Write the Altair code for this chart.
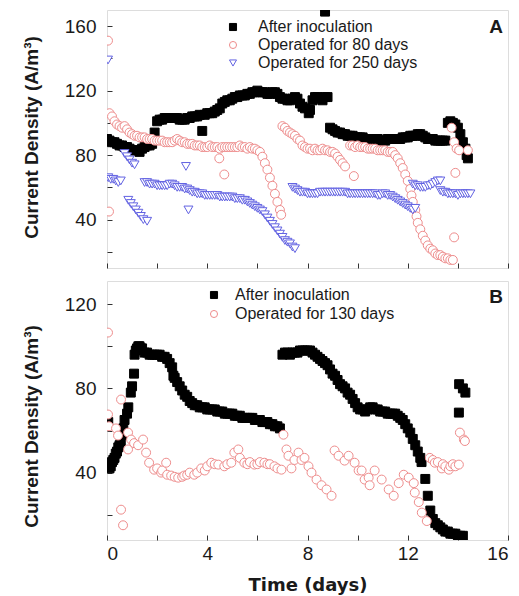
import altair as alt
import pandas as pd

# ---------------- Panel A data (time in days, current density A/m3) ----------------
a_names = ["After inoculation", "Operated for 80 days", "Operated for 250 days"]

a_inoc = [
    (0.0, 90), (0.1, 89), (0.2, 88), (0.3, 88), (0.4, 87), (0.5, 86), (0.6, 86), (0.7, 85),
    (0.8, 85), (0.9, 84), (1.0, 83), (1.1, 83), (1.2, 83), (1.3, 82), (1.4, 84), (1.5, 85),
    (1.6, 86), (1.7, 86), (1.8, 87), (1.9, 94),
    (2.0, 101), (2.1, 102), (2.2, 102), (2.3, 103), (2.4, 103), (2.5, 103), (2.6, 103),
    (2.7, 103), (2.8, 103), (2.9, 102), (3.0, 102), (3.1, 102), (3.2, 103), (3.3, 103),
    (3.4, 104), (3.5, 104), (3.6, 104), (3.7, 105), (3.8, 95),
    (3.9, 105), (4.0, 106), (4.1, 106), (4.2, 106), (4.3, 107), (4.4, 108), (4.5, 109),
    (4.6, 112), (4.7, 113), (4.8, 114), (4.9, 114), (5.0, 115), (5.1, 116), (5.2, 116),
    (5.3, 117), (5.4, 117), (5.5, 117), (5.6, 118), (5.7, 118),
    (5.8, 119), (5.9, 119), (6.0, 120), (6.1, 119), (6.2, 119), (6.3, 119), (6.4, 118),
    (6.5, 118), (6.6, 119), (6.7, 119), (6.8, 118),
    (6.9, 116), (7.0, 115), (7.1, 115), (7.2, 114), (7.3, 114), (7.4, 115), (7.5, 116),
    (7.6, 115), (7.7, 112), (7.8, 110), (7.9, 109), (8.05, 106), (8.1, 108),
    (8.2, 114), (8.3, 116), (8.4, 116), (8.5, 115), (8.6, 114), (8.7, 116), (8.8, 116),
    (8.7, 169),
    (8.9, 97), (9.0, 96), (9.1, 95), (9.2, 94), (9.3, 94), (9.4, 93), (9.5, 93), (9.6, 92),
    (9.7, 92), (9.8, 92), (9.9, 91), (10.0, 91), (10.1, 91), (10.2, 91), (10.3, 90),
    (10.4, 90), (10.5, 90), (10.6, 90), (10.7, 90), (10.8, 90), (10.9, 89), (11.0, 89),
    (11.1, 89), (11.2, 90), (11.3, 90), (11.4, 90), (11.5, 90), (11.6, 90), (11.7, 90),
    (11.8, 91), (11.9, 91), (12.0, 91), (12.1, 92), (12.2, 92), (12.3, 92), (12.4, 93),
    (12.5, 93), (12.6, 92), (12.7, 91), (12.8, 90), (12.9, 90), (13.0, 90), (13.1, 89),
    (13.2, 89), (13.3, 89), (13.4, 89), (13.5, 89),
    (13.6, 100), (13.7, 101), (13.8, 100), (13.9, 99), (14.0, 97), (14.1, 93), (14.2, 88),
    (14.3, 84), (14.35, 80), (14.4, 78),
]

a_80 = [
    (0.04, 151), (0.08, 45), (0.1, 106), (0.2, 104), (0.3, 101), (0.4, 99), (0.5, 98),
    (0.6, 97), (0.7, 98), (0.8, 96),
    (0.9, 94), (1.0, 93), (1.1, 92), (1.2, 92), (1.3, 91), (1.4, 91), (1.5, 91), (1.6, 90),
    (1.7, 90), (1.8, 90), (1.9, 89), (2.0, 89), (2.1, 89), (2.2, 89), (2.3, 88), (2.4, 88),
    (2.5, 88), (2.6, 88), (2.7, 89), (2.8, 90), (2.9, 89), (3.0, 88), (3.1, 88), (3.2, 87),
    (3.3, 87), (3.4, 87), (3.5, 86), (3.6, 86), (3.7, 86), (3.8, 85), (3.9, 85), (4.0, 85),
    (4.1, 86), (4.2, 85), (4.3, 85), (4.4, 85), (4.5, 84), (4.6, 85), (4.7, 85), (4.8, 85),
    (4.9, 85), (5.0, 85), (4.48, 78), (4.68, 68),
    (5.1, 85), (5.2, 85), (5.3, 86), (5.4, 85), (5.5, 85), (5.6, 84), (5.7, 85), (5.8, 84),
    (5.9, 84), (6.0, 83),
    (6.1, 82), (6.2, 79), (6.3, 75), (6.4, 71), (6.5, 66), (6.6, 61), (6.7, 56), (6.8, 51),
    (6.9, 46), (6.95, 43),
    (7.0, 98), (7.1, 97), (7.2, 95), (7.3, 94), (7.4, 93), (7.5, 92), (7.6, 90), (7.7, 89),
    (7.8, 86), (7.9, 85), (8.0, 84), (8.1, 84), (8.2, 83), (8.3, 84), (8.4, 83), (8.5, 83),
    (8.6, 84), (8.7, 83), (8.8, 83), (8.9, 82), (9.0, 82), (9.1, 81), (9.2, 79), (9.3, 77),
    (9.4, 75), (9.5, 73), (9.85, 67),
    (9.7, 86), (9.8, 86), (9.9, 85), (10.0, 86), (10.1, 85), (10.2, 85), (10.3, 85),
    (10.4, 84), (10.5, 84), (10.6, 84), (10.7, 84), (10.8, 83), (10.9, 83), (11.0, 83),
    (11.1, 83), (11.2, 82), (11.3, 82), (11.4, 82),
    (11.5, 80), (11.6, 78), (11.7, 75), (11.8, 72), (11.9, 68), (12.0, 64), (12.1, 59),
    (12.15, 55), (12.2, 51), (12.3, 46), (12.35, 42), (12.4, 38), (12.5, 34), (12.6, 30),
    (12.7, 27), (12.8, 24), (12.9, 22), (13.0, 21), (13.1, 19), (13.2, 18), (13.3, 18),
    (13.4, 17), (13.5, 16), (13.6, 16), (13.7, 15), (13.8, 15),
    (13.75, 97), (13.85, 88), (13.95, 84), (14.05, 83), (13.9, 69), (13.85, 29), (14.4, 83),
]

a_250 = [
    (0.04, 139), (0.05, 66), (0.15, 65), (0.25, 65), (0.35, 64), (0.45, 63), (0.55, 64),
    (0.7, 81), (0.8, 79), (0.9, 77), (1.0, 75), (1.1, 74),
    (0.85, 52), (0.95, 50), (1.05, 48), (1.15, 46), (1.25, 44), (1.35, 42), (1.45, 40),
    (1.6, 39), (3.15, 73), (3.25, 46),
    (1.5, 63), (1.6, 63), (1.7, 62), (1.8, 62), (1.9, 62), (2.0, 61), (2.1, 61), (2.2, 61),
    (2.3, 61), (2.4, 61), (2.5, 62), (2.6, 62), (2.7, 61), (2.8, 60), (2.9, 60), (3.0, 60),
    (3.1, 59), (3.2, 59),
    (3.3, 58), (3.4, 57), (3.5, 57), (3.6, 56), (3.7, 56), (3.8, 56), (3.9, 55), (4.0, 55),
    (4.1, 55), (4.2, 55), (4.3, 55), (4.4, 55), (4.5, 54), (4.6, 54), (4.7, 54), (4.8, 54),
    (4.9, 54), (5.0, 54), (5.1, 53), (5.2, 53), (5.3, 53), (5.4, 52), (5.5, 52), (5.6, 51),
    (5.7, 50), (5.8, 49), (5.9, 48), (6.0, 47), (6.1, 46), (6.2, 45), (6.3, 43), (6.4, 41),
    (6.5, 39), (6.6, 37), (6.7, 35), (6.8, 33), (6.9, 31), (7.0, 29), (7.1, 27), (7.2, 26),
    (7.3, 25), (7.4, 23), (7.5, 22),
    (7.4, 60), (7.5, 59), (7.6, 58), (7.7, 57), (7.8, 57), (7.9, 57), (8.0, 56), (8.1, 56),
    (8.2, 56), (8.3, 56), (8.4, 56), (8.5, 57), (8.6, 57), (8.7, 57), (8.8, 57), (8.9, 57),
    (9.0, 57), (9.1, 57), (9.2, 57), (9.3, 57), (9.4, 57), (9.5, 57), (9.6, 56), (9.7, 56),
    (9.8, 56), (9.9, 56), (10.0, 56), (10.1, 56), (10.2, 56), (10.3, 56), (10.4, 56),
    (10.5, 56), (10.6, 56), (10.7, 56), (10.8, 55), (10.9, 55), (11.0, 56), (11.1, 56),
    (11.2, 55), (11.3, 55),
    (11.4, 54), (11.5, 53), (11.6, 52), (11.7, 51), (11.8, 50), (11.9, 49), (12.0, 48),
    (12.1, 47), (12.2, 46), (12.3, 47),
    (12.2, 62), (12.3, 61), (12.4, 61), (12.5, 60), (12.6, 60), (12.7, 60), (12.8, 61),
    (12.9, 61), (13.0, 62), (13.1, 63), (13.2, 64), (13.3, 64),
    (13.3, 58), (13.4, 57), (13.5, 57), (13.6, 56), (13.7, 56), (13.8, 56), (13.9, 56),
    (14.0, 55), (14.1, 56), (14.2, 56), (14.3, 56), (14.4, 56), (14.5, 56),
]

# ---------------- Panel B data ----------------
b_names = ["After inoculation", "Operated for 130 days"]

b_inoc = [
    (0.05, 64), (0.1, 42), (0.15, 43), (0.2, 45), (0.25, 46), (0.3, 47), (0.35, 49),
    (0.4, 50), (0.45, 52), (0.5, 53), (0.55, 55), (0.6, 58), (0.65, 61), (0.7, 65),
    (0.8, 68), (0.85, 71), (0.95, 78), (1.0, 81), (1.08, 87), (1.1, 96), (1.15, 98),
    (1.2, 99), (1.25, 100), (1.3, 100), (1.35, 99), (1.4, 99), (1.5, 97), (1.6, 97),
    (1.7, 96), (1.8, 96), (1.9, 96), (2.0, 96), (2.1, 96), (2.2, 95), (2.3, 95), (2.4, 94),
    (2.5, 92), (2.6, 90), (2.65, 86), (2.7, 85), (2.8, 83), (2.9, 81), (3.0, 79), (3.1, 77),
    (3.2, 76), (3.3, 74), (3.4, 73), (3.5, 72), (3.6, 72), (3.7, 71), (3.8, 71), (3.9, 71),
    (4.0, 70), (4.1, 70), (4.2, 70), (4.3, 70), (4.4, 69), (4.5, 69), (4.6, 69), (4.7, 68),
    (4.8, 68), (4.9, 68), (5.0, 68), (5.1, 67), (5.2, 67), (5.3, 67), (5.4, 66), (5.5, 66),
    (5.6, 66), (5.7, 66), (5.8, 66), (5.9, 65), (6.0, 65), (6.1, 65), (6.2, 64), (6.3, 64),
    (6.4, 64), (6.5, 63), (6.6, 63), (6.7, 62), (6.8, 62), (6.9, 61),
    (7.0, 96), (7.1, 97), (7.2, 97), (7.3, 96), (7.4, 97), (7.5, 97), (7.6, 97), (7.7, 98),
    (7.8, 98), (7.9, 98), (8.0, 98), (8.1, 98), (8.2, 97), (8.3, 96), (8.4, 95), (8.5, 94),
    (8.6, 93), (8.7, 92), (8.8, 91), (8.9, 89), (9.0, 87), (9.1, 86), (9.2, 84), (9.3, 82),
    (9.4, 81), (9.5, 80), (9.6, 78), (9.7, 77), (9.8, 75), (9.9, 73), (10.0, 71),
    (10.1, 70), (10.2, 70), (10.3, 69), (10.4, 70), (10.5, 71), (10.6, 71), (10.7, 70),
    (10.8, 70), (10.9, 69), (11.0, 69), (11.1, 69), (11.2, 68), (11.3, 68), (11.4, 68),
    (11.5, 68), (11.6, 67), (11.7, 66), (11.8, 65), (11.9, 63), (12.0, 61), (12.1, 59),
    (12.2, 56), (12.3, 53), (12.4, 50), (12.5, 47), (12.55, 45), (12.7, 37), (12.8, 29),
    (12.9, 22), (13.0, 18), (13.1, 16), (13.2, 15), (13.3, 14), (13.4, 13), (13.5, 12),
    (13.6, 12), (13.7, 11), (13.8, 11), (13.9, 11), (14.0, 10), (14.1, 10), (14.2, 10),
    (14.04, 68.5), (14.05, 82), (14.2, 80), (14.3, 78),
]

b_130 = [
    (0.04, 106.5), (0.04, 67.6), (0.08, 62), (0.36, 61), (0.56, 74.7), (0.56, 22.4),
    (0.64, 15), (0.44, 57.6), (0.84, 59), (0.84, 51), (0.96, 55.7), (1.08, 54), (1.24, 53),
    (1.44, 55.7), (1.56, 49.5), (1.68, 44.7), (1.88, 41.4), (2.0, 42), (2.16, 40), (2.2, 41),
    (2.36, 44.7), (2.4, 39), (2.56, 38.6), (2.7, 38), (2.84, 37.6), (3.0, 38), (3.08, 38.6),
    (3.2, 39), (3.3, 40), (3.48, 39), (3.6, 40), (3.76, 42), (3.9, 41), (4.0, 43),
    (4.16, 44.7), (4.3, 44), (4.44, 43.8), (4.68, 43), (4.8, 44), (4.96, 44.7), (5.08, 49.5),
    (5.24, 51), (5.3, 47), (5.48, 44.7), (5.6, 44), (5.7, 45), (5.88, 43.8), (6.0, 44),
    (6.1, 45), (6.28, 44.7), (6.4, 44), (6.5, 44), (6.68, 43), (6.8, 42), (6.96, 41.4),
    (7.04, 58), (7.16, 51), (7.24, 48), (7.36, 42), (7.48, 46), (7.64, 49.5), (7.76, 46),
    (7.88, 47), (8.04, 43), (8.16, 40), (8.36, 36.7), (8.56, 34), (8.76, 32), (8.96, 29),
    (9.08, 50.5), (9.24, 48), (9.48, 45.7), (9.64, 48), (9.88, 44.7), (10.04, 41),
    (10.16, 41), (10.28, 36.7), (10.44, 37.6), (10.48, 34), (10.68, 41), (10.96, 36.7),
    (11.24, 32), (11.44, 29), (11.64, 35), (11.84, 39), (12.04, 37.6), (12.24, 35),
    (12.28, 30.5), (12.44, 26), (12.56, 21), (12.76, 17), (12.88, 47), (13.0, 46),
    (13.08, 44.7), (13.2, 45), (13.36, 42), (13.4, 44), (13.5, 43), (13.64, 41.4), (13.7, 43),
    (13.8, 44), (13.9, 43), (14.04, 43.8), (14.08, 59), (14.24, 55.7), (14.28, 55),
]

x_ticks = [0, 2, 4, 6, 8, 10, 12, 14, 16]
a_y_ticks = [20, 40, 60, 80, 100, 120, 140, 160]
b_y_ticks = [20, 40, 60, 80, 100, 120]

FONT = "Liberation Sans"
INK = "#1a1a1a"


def to_frame(pairs, name):
    return pd.DataFrame({"t": [p[0] for p in pairs], "v": [p[1] for p in pairs], "series": name})


def panel(df, names, shapes, strokes, fills, ydom, yvals, height, show_x, title_y,
          leg_x, leg_y, leg_off, leg_row, letter, letter_y):
    legend = alt.Legend(
        title=None, orient="none", legendX=leg_x, legendY=leg_y, padding=0,
        labelFont=FONT, labelFontSize=16, labelColor=INK, labelOffset=leg_off,
        rowPadding=leg_row, symbolSize=50, symbolStrokeWidth=1,
    )
    xaxis = alt.Axis(
        values=x_ticks, offset=-5, tickSize=5, tickColor="#333", tickWidth=1,
        domain=False, grid=False,
        labels=show_x,
        labelExpr="datum.value % 4 === 0 ? datum.label : ''",
        labelFont=FONT, labelFontSize=19, labelColor=INK, labelPadding=4,
        title="Time (days)" if show_x else None,
        titleFont="DejaVu Sans", titleFontSize=18, titleFontWeight="bold", titleColor=INK,
        titleBaseline="alphabetic", titleY=55,
    )
    yaxis = alt.Axis(
        values=yvals, offset=-5, tickSize=5, tickColor="#333", tickWidth=1,
        domain=False, grid=False,
        labelExpr="datum.value % 40 === 0 ? datum.label : ''",
        labelFont=FONT, labelFontSize=19, labelColor=INK, labelPadding=11,
        title="Current Density (A/m³)", titleFont=FONT, titleFontSize=19,
        titleFontWeight="bold", titleColor=INK, titleAngle=270, titleAlign="center",
        titleBaseline="bottom", titleX=-71, titleY=title_y,
    )
    pts = alt.Chart(df).mark_point(size=80, strokeWidth=1, opacity=1, clip=True).encode(
        x=alt.X("t:Q", scale=alt.Scale(domain=[0, 16], nice=False), axis=xaxis),
        y=alt.Y("v:Q", scale=alt.Scale(domain=ydom, nice=False, zero=False), axis=yaxis),
        shape=alt.Shape("series:N", scale=alt.Scale(domain=names, range=shapes), legend=legend),
        stroke=alt.Stroke("series:N", scale=alt.Scale(domain=names, range=strokes), legend=legend),
        fill=alt.Fill("series:N", scale=alt.Scale(domain=names, range=fills), legend=legend),
    )
    lab = alt.Chart(pd.DataFrame({"label": [letter]})).mark_text(
        font=FONT, fontSize=19, fontWeight="bold", color=INK,
        align="center", baseline="middle",
    ).encode(text="label:N", x=alt.value(389), y=alt.value(letter_y))
    return alt.layer(pts, lab).properties(width=401, height=height)


df_a = pd.concat([to_frame(a_inoc, a_names[0]), to_frame(a_80, a_names[1]),
                  to_frame(a_250, a_names[2])], ignore_index=True)
df_b = pd.concat([to_frame(b_inoc, b_names[0]), to_frame(b_130, b_names[1])],
                 ignore_index=True)

chart_a = panel(df_a, a_names, ["square", "circle", "triangle-down"],
                ["#000000", "#EE8C8C", "#6262E2"], ["#000000", "#ffffff", "#ffffff"],
                [10, 170], a_y_ticks, 258, False, 127, 118, 9, 17, 2, "A", 17)
chart_b = panel(df_b, b_names, ["square", "circle"],
                ["#000000", "#EE8C8C"], ["#000000", "#ffffff"],
                [8, 131], b_y_ticks, 259, True, 145, 99, 6, 13, 3, "B", 16)

chart = alt.vconcat(chart_a, chart_b, spacing=11).resolve_scale(
    x="independent", y="independent", shape="independent",
    stroke="independent", fill="independent",
).resolve_legend(shape="independent", stroke="independent", fill="independent").properties(
    padding={"left": 21, "top": 9, "right": 0, "bottom": 0},
).configure_view(stroke="#444", strokeWidth=1.5).configure(background="white")

chart.save("out.html", embed_options={"renderer": "svg", "actions": False})
